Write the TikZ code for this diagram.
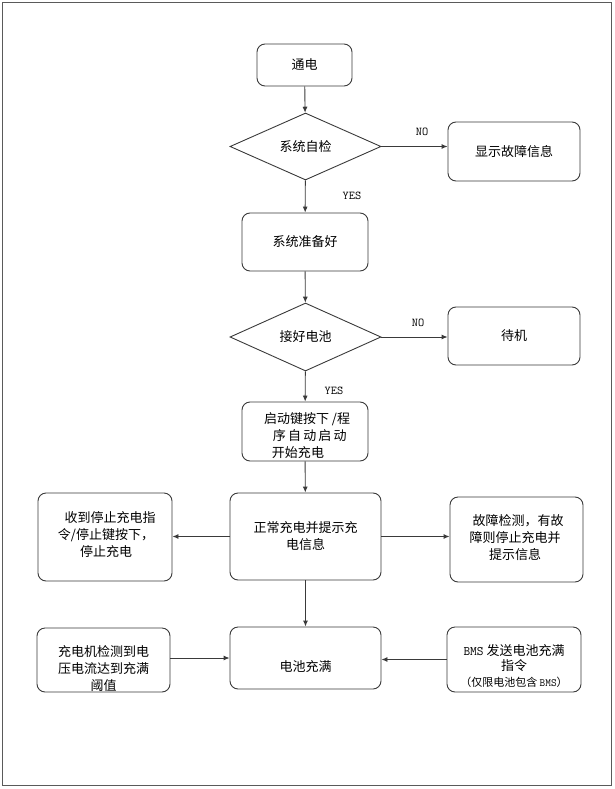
\documentclass[tikz,border=0pt]{standalone}
\usepackage{fontspec}
\setmainfont{Noto Sans CJK SC}
\usetikzlibrary{shapes.geometric,arrows.meta}
\definecolor{edge}{HTML}{3A3A3A}
\definecolor{frame}{HTML}{5A5A5A}
\newcommand{\latmono}{\ttfamily}
\begin{document}
\begin{tikzpicture}[x=1pt,y=-1pt,
  box/.style={draw=edge,line width=0.9pt,rounded corners=8pt,inner sep=0pt,align=center,
    font=\fontsize{13}{17}\selectfont},
  dia/.style={draw=edge,line width=0.9pt,diamond,aspect=2.25,inner sep=0pt,
    font=\fontsize{13}{17}\selectfont},
  txt/.style={inner sep=0pt,align=center,font=\fontsize{13}{17}\selectfont},
  lab/.style={inner sep=0pt,font=\latmono\fontsize{12}{13}\selectfont},
  arr/.style={draw=edge,line width=0.9pt,-{Latex[length=6pt,width=5pt]}}]
\useasboundingbox (0,0) rectangle (614,789);
\draw[frame,line width=1.3pt] (2.5,2.5) rectangle (611.5,785.5);

\node[box,minimum width=95pt,minimum height=42pt] (tong) at (304.5,65) {通电};
\node[dia,minimum width=151pt,minimum height=67pt] (zj) at (305.5,146.5) {系统自检};
\node[box,minimum width=132pt,minimum height=59pt] (xsgz) at (514,151.5) {显示故障信息};
\node[box,minimum width=126pt,minimum height=58pt] (zbh) at (305,242) {系统准备好};
\node[dia,minimum width=151pt,minimum height=68pt] (jhdc) at (305.5,337) {接好电池};
\node[box,minimum width=132pt,minimum height=58pt] (dj) at (514,336) {待机};
\node[box,minimum width=126pt,minimum height=59pt] (qd) at (305,431.5) {};
\node[txt,align=left] (qdt) at (307,436) {启动键按下 /程\\\hspace{9pt}序\,自\,动\,启\,动\\\hspace{8pt}开始充电};
\node[box,minimum width=151pt,minimum height=87pt] (zc) at (305.5,536.5) {正常充电并提示充\\电信息};
\node[box,minimum width=134pt,minimum height=88pt] (left1) at (105,537) {};
\node[txt] (left1t) at (106,535) {\hspace{8pt}收到停止充电指\\令/停止键按下，\\停止充电};
\node[box,minimum width=133pt,minimum height=85pt] (right1) at (516.5,539.5) {};
\node[txt] (right1t) at (515,538) {\hspace{6pt}故障检测，有故\\障则停止充电并\\提示信息};
\node[box,minimum width=151pt,minimum height=62pt] (dcm) at (305.5,658) {};
\node[txt] (dcmt) at (305.5,667) {电池充满};
\node[box,minimum width=133pt,minimum height=64pt] (left2) at (103.5,660) {};
\node[txt] (left2t) at (103.5,669) {充电机检测到电\\压电流达到充满\\阈值};
\node[box,minimum width=134pt,minimum height=65pt] (right2) at (514,659.5) {};
\node[txt,font=\fontsize{13}{15.5}\selectfont] (right2t) at (514,666) {{\latmono BMS} 发送电池充满\\指令\\{\fontsize{11}{13}\selectfont （仅限电池包含 {\latmono BMS}）}};

\draw[arr] (tong) -- (zj);
\draw[arr] (zj) -- (xsgz.west |- zj.east);
\draw[arr] (zj) -- (zbh);
\draw[arr] (zbh) -- (jhdc);
\draw[arr] (jhdc.east) -- (dj.west |- jhdc.east);
\draw[arr] (jhdc) -- (qd);
\draw[arr] (qd) -- (zc);
\draw[arr] (zc.west) -- (left1.east |- zc.west);
\draw[arr] (zc.east) -- (right1.west |- zc.east);
\draw[arr] (zc) -- (dcm);
\draw[arr] (left2.east |- dcm.west) -- (dcm.west);
\draw[arr] (right2.west) -- (dcm.east |- right2.west);

\node[lab] (no1) at (422,132) {NO};
\node[lab] (yes1) at (352,196) {YES};
\node[lab] (no2) at (418,323) {NO};
\node[lab] (yes2) at (334,391) {YES};
\end{tikzpicture}
\end{document}
